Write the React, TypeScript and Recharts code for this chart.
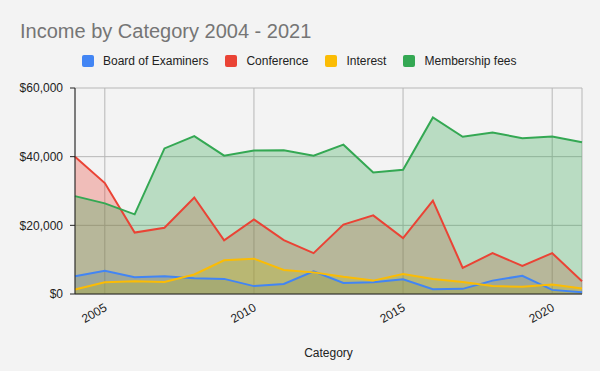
import { ComposedChart, Area, Line, XAxis, YAxis, CartesianGrid } from 'recharts';

const years = [2004, 2005, 2006, 2007, 2008, 2009, 2010, 2011, 2012, 2013, 2014, 2015, 2016, 2017, 2018, 2019, 2020, 2021];
const boardOfExaminers = [5200, 6800, 4900, 5200, 4600, 4400, 2300, 2900, 6600, 3200, 3400, 4300, 1400, 1500, 3900, 5300, 1200, 500];
const conference = [40000, 32300, 17900, 19300, 28100, 15600, 21700, 15700, 11900, 20200, 22900, 16300, 27200, 7600, 11900, 8200, 11900, 3700];
const interest = [1300, 3400, 3700, 3500, 5700, 9800, 10300, 7000, 6300, 5000, 3900, 5800, 4400, 3500, 2300, 2100, 2800, 1600];
const membershipFees = [28500, 26400, 23200, 42400, 46000, 40300, 41800, 41900, 40300, 43500, 35400, 36200, 51400, 45800, 47000, 45400, 45900, 44200];

const xTicks = [2005, 2010, 2015, 2020];
const yTicks = [0, 20000, 40000, 60000];

const series = [
  { key: 'board', name: 'Board of Examiners', color: '#4285f4' },
  { key: 'conference', name: 'Conference', color: '#ea4335' },
  { key: 'interest', name: 'Interest', color: '#fbbc04' },
  { key: 'membership', name: 'Membership fees', color: '#34a853' },
];

const data = years.map((year, i) => ({
  year,
  board: boardOfExaminers[i],
  conference: conference[i],
  interest: interest[i],
  membership: membershipFees[i],
}));

const FONT = '"Liberation Sans", Arial, sans-serif';

function formatMoney(v: number): string {
  return '$' + v.toLocaleString('en-US');
}

function YearTick(props: any) {
  const { x, y, payload } = props;
  const ax = x + 3;
  const ay = y + 16;
  return (
    <text
      x={ax}
      y={ay}
      transform={`rotate(-30, ${ax}, ${ay})`}
      textAnchor="end"
      fontSize={12}
      fill="#222"
    >
      {payload.value}
    </text>
  );
}

export default function App() {
  return (
    <div style={{ position: 'fixed', left: 0, top: 0, width: 600, height: 371, background: '#f3f3f3', fontFamily: FONT }}>
      <ComposedChart width={600} height={371} data={data} margin={{ top: 88, right: 18, bottom: 0, left: 0 }}>
        <CartesianGrid stroke="#b7b7b7" strokeWidth={1} />
        <XAxis
          dataKey="year"
          type="number"
          domain={[2004, 2021]}
          ticks={xTicks}
          height={77}
          tickLine={false}
          tickSize={0}
          tickMargin={0}
          axisLine={{ stroke: '#222' }}
          tick={<YearTick />}
          label={{ value: 'Category', position: 'insideBottom', offset: 14, fill: '#222', fontSize: 12 }}
        />
        <YAxis
          type="number"
          domain={[0, 60000]}
          ticks={yTicks}
          width={75}
          tickSize={5}
          tickMargin={7}
          tickFormatter={formatMoney}
          tick={{ fill: '#222', fontSize: 12 }}
          tickLine={{ stroke: '#222' }}
          axisLine={{ stroke: '#222' }}
        />
        {series.map((s) => (
          <Area
            key={`area-${s.key}`}
            type="linear"
            dataKey={s.key}
            stroke="none"
            fill={s.color}
            fillOpacity={0.3}
            isAnimationActive={false}
            legendType="none"
          />
        ))}
        {series.map((s) => (
          <Line
            key={`line-${s.key}`}
            type="linear"
            dataKey={s.key}
            name={s.name}
            stroke={s.color}
            strokeWidth={2}
            dot={false}
            activeDot={false}
            isAnimationActive={false}
          />
        ))}
      </ComposedChart>
      <svg width={600} height={50} style={{ position: 'absolute', left: 0, top: 0, pointerEvents: 'none' }}>
        <text x={20} y={38} fontSize={20} fill="#757575">Income by Category 2004 - 2021</text>
      </svg>
      <div style={{ position: 'absolute', left: 82, top: 55, display: 'flex', alignItems: 'center', gap: 17, fontSize: 12, color: '#222' }}>
        {series.map((s) => (
          <div key={s.key} style={{ display: 'flex', alignItems: 'center' }}>
            <span style={{ width: 12, height: 12, borderRadius: 2, background: s.color, marginRight: 9 }} />
            <span style={{ lineHeight: '12px' }}>{s.name}</span>
          </div>
        ))}
      </div>
    </div>
  );
}
